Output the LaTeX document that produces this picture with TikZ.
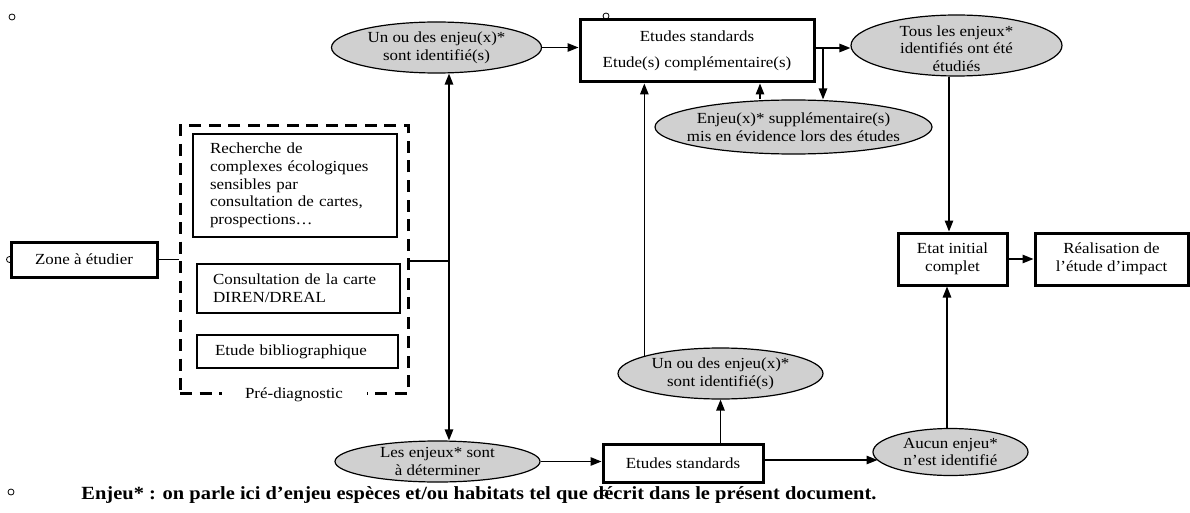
\documentclass[tikz,border=0pt]{standalone}
\usepackage{fontspec}
\setmainfont{Liberation Serif}[FakeStretch=1.1]
\usetikzlibrary{arrows.meta,calc,shapes.geometric}
\definecolor{ovalgray}{RGB}{208,208,208}
\tikzset{
  txt/.style={font=\fontsize{15.4pt}{17.7pt}\selectfont, align=center, text=black},
  thickbox/.style={draw, line width=3pt, inner sep=0pt, txt},
  thinbox/.style={draw, line width=1.3pt, inner sep=0pt, txt},
  oval/.style={ellipse, draw, line width=1.2pt, fill=ovalgray, inner sep=0pt},
  conn/.style={line width=1.3pt},
  arr/.style={conn, -{Triangle[length=11pt,width=8.5pt]}},
  predash/.style={draw, line width=3pt, dash pattern=on 12pt off 7.5pt, inner sep=0pt},
  anchorc/.style={circle, draw, line width=0.8pt, inner sep=0pt, minimum size=6pt}
}
\begin{document}
\begin{tikzpicture}[x=1pt,y=-1pt]
\fill[white] (0,0) rectangle (1190,513);
\useasboundingbox (0,0) rectangle (1190,513);

% pre-diagnostic group
\node[thickbox, minimum width=146pt, minimum height=35pt] (zone) at (84,259.5) {Zone à étudier};
\node[predash, minimum width=228pt, minimum height=267pt] (pre) at (294,259.5) {};
\node[txt, fill=white, minimum width=145pt, inner sep=0pt] (prelab) at (pre.south) {Pré-diagnostic};
\node[thinbox, minimum width=204pt, minimum height=103pt, text width=170pt, align=left] (b1) at (295,185.5)
  {Recherche de\\complexes écologiques\\sensibles par\\consultation de cartes,\\prospections…};
\node[thinbox, minimum width=203pt, minimum height=49pt, text width=171pt, align=left] (b2) at (298.5,288.5)
  {Consultation de la carte\\DIREN/DREAL};
\node[thinbox, minimum width=201pt, minimum height=33pt, text width=165pt, align=left] (b3) at (297.5,351.5)
  {Etude bibliographique};

% top row
\node[oval, minimum width=210pt, minimum height=51pt, label={[txt]center:{Un ou des enjeu(x)*\\sont identifié(s)}}] (e1) at (436.5,47.5) {};
\node[thickbox, minimum width=234pt, minimum height=62pt] (etu) at (697,51)
  {Etudes standards\\[8.3pt]Etude(s) complémentaire(s)};
\node[oval, minimum width=277pt, minimum height=54pt, label={[txt]center:{Enjeu(x)* supplémentaire(s)\\mis en évidence lors des études}}] (sup) at (793.5,127) {};
\node[oval, minimum width=211pt, minimum height=61pt, label={[txt, yshift=-3pt]center:{Tous les enjeux*\\identifiés ont été\\étudiés}}] (tous) at (956.5,45.5) {};

% right
\node[thickbox, minimum width=109pt, minimum height=52pt] (etat) at (952.5,259) {Etat initial\\complet};
\node[thickbox, minimum width=153pt, minimum height=52pt] (real) at (1111.5,259) {Réalisation de\\l’étude d’impact};

% bottom row
\node[oval, minimum width=205pt, minimum height=51pt, label={[txt]center:{Un ou des enjeu(x)*\\sont identifié(s)}}] (e2) at (720.5,373.5) {};
\node[oval, minimum width=205pt, minimum height=41pt, label={[txt]center:{Les enjeux* sont\\à déterminer}}] (les) at (437.5,461.5) {};
\node[thickbox, minimum width=160pt, minimum height=38pt] (etu2) at (683,463) {Etudes standards};
\node[oval, minimum width=155pt, minimum height=47pt, label={[txt]center:{Aucun enjeu*\\n’est identifié}}] (aucun) at (950.5,452) {};

% footnote
\node[font=\fontsize{18.6pt}{20pt}\selectfont\bfseries, inner sep=0pt] (foot) at (479,495)
  {Enjeu* : on parle ici d’enjeu espèces et/ou habitats tel que décrit dans le présent document.};

% small anchor circles
\node[anchorc] (c1) at (12,17) {};
\node[anchorc] (c2) at (11,492) {};
\node[anchorc] (c3) at (zone.west) {};
\node[anchorc] (c4) at (606,16) {};
\node[anchorc] (c5) at (605,493) {};

% connectors
\coordinate (j) at (449,261);
\coordinate (b) at (823,48);
\coordinate (s1) at ($(sup.north)+(-33.5,0)$);
\coordinate (a1) at ($(aucun.center)+(-73,8)$);
\coordinate (a2) at ($(aucun.north)+(-3.5,0)$);
\coordinate (t1) at ($(tous.south)+(-7.5,0)$);

\draw[conn] (zone.east) -- (zone.east -| pre.west);
\draw[conn] (pre.east |- j) -- (j);
\draw[arr] (j) -- (j |- e1.south);
\draw[arr] (j) -- (j |- les.north);
\draw[arr] (e1.east) -- (e1.east -| etu.west);
\draw[arr] (etu.east |- b) -- (b -| tous.west);
\draw[arr] (b) -- (b |- sup.north);
\draw[arr] (s1) -- (s1 |- etu.south);
\draw[arr] (e2.167.8) -- (e2.167.8 |- etu.south);
\draw[arr] (les.east) -- (les.east -| etu2.west);
\draw[arr] (e2.south |- etu2.north) -- (e2.south);
\draw[arr] (etu2.east |- a1) -- (a1);
\draw[arr] (a2) -- (a2 |- etat.south);
\draw[arr] (t1) -- (t1 |- etat.north);
\draw[arr] (etat.east) -- (etat.east -| real.west);
\end{tikzpicture}
\end{document}
